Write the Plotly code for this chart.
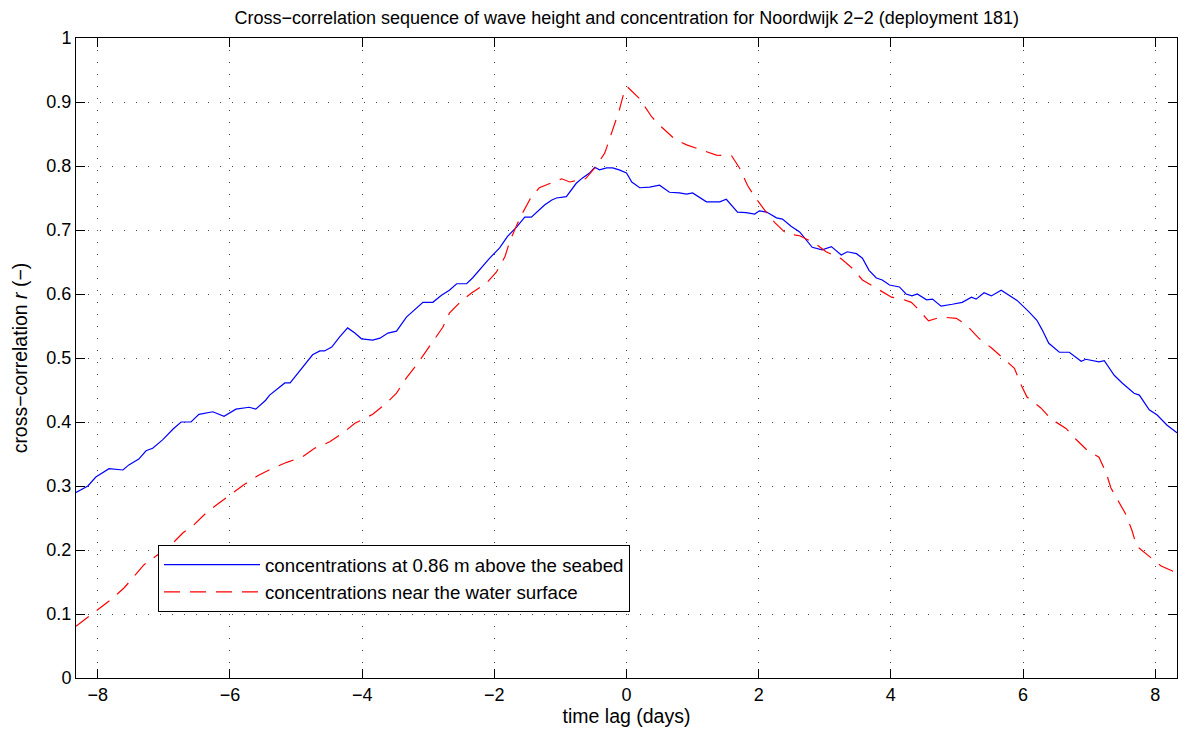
import plotly.graph_objects as go

# Blue: concentrations at 0.86 m above the seabed
blue_lag = [-8.33, -8.15, -8.03, -7.83, -7.62, -7.53, -7.38, -7.27, -7.17, -7.02, -6.86, -6.74, -6.59, -6.47,
            -6.26, -6.09, -5.91, -5.71, -5.61, -5.46, -5.40, -5.17, -5.09, -4.90, -4.75, -4.64, -4.57, -4.46,
            -4.34, -4.22, -4.11, -4.01, -3.84, -3.73, -3.61, -3.48, -3.33, -3.08, -2.93, -2.80, -2.68, -2.57,
            -2.42, -2.33, -2.19, -2.07, -1.92, -1.80, -1.66, -1.54, -1.44, -1.36, -1.24, -1.13, -1.06, -0.91,
            -0.76, -0.67, -0.56, -0.48, -0.41, -0.30, -0.21, -0.11, 0.00, 0.08, 0.20, 0.35, 0.50, 0.65, 0.80,
            0.91, 1.00, 1.21, 1.41, 1.51, 1.68, 1.81, 1.94, 2.01, 2.12, 2.27, 2.36, 2.49, 2.62, 2.81, 2.96,
            3.10, 3.25, 3.34, 3.48, 3.57, 3.67, 3.78, 3.87, 3.98, 4.13, 4.23, 4.32, 4.40, 4.54, 4.63, 4.76,
            4.93, 5.08, 5.22, 5.29, 5.41, 5.52, 5.67, 5.79, 5.91, 6.09, 6.21, 6.29, 6.39, 6.55, 6.70, 6.88,
            6.95, 7.15, 7.23, 7.38, 7.50, 7.68, 7.76, 7.91, 8.03, 8.18, 8.33]
blue_r = [0.290, 0.300, 0.314, 0.327, 0.325, 0.333, 0.342, 0.355, 0.359, 0.372, 0.389, 0.400, 0.400, 0.412,
          0.416, 0.409, 0.420, 0.423, 0.420, 0.434, 0.442, 0.461, 0.461, 0.486, 0.505, 0.511, 0.511, 0.517,
          0.533, 0.547, 0.539, 0.530, 0.528, 0.531, 0.539, 0.542, 0.564, 0.587, 0.587, 0.598, 0.606, 0.616,
          0.616, 0.625, 0.642, 0.656, 0.672, 0.690, 0.705, 0.720, 0.720, 0.727, 0.739, 0.747, 0.750, 0.752,
          0.773, 0.781, 0.789, 0.798, 0.794, 0.797, 0.797, 0.794, 0.789, 0.775, 0.766, 0.767, 0.770, 0.759,
          0.758, 0.756, 0.758, 0.744, 0.744, 0.748, 0.728, 0.727, 0.725, 0.730, 0.728, 0.719, 0.717, 0.706,
          0.697, 0.673, 0.669, 0.674, 0.661, 0.666, 0.663, 0.656, 0.637, 0.625, 0.622, 0.614, 0.611, 0.600,
          0.597, 0.600, 0.591, 0.592, 0.581, 0.584, 0.587, 0.595, 0.592, 0.602, 0.597, 0.606, 0.598, 0.590,
          0.572, 0.559, 0.544, 0.523, 0.509, 0.509, 0.495, 0.498, 0.494, 0.496, 0.473, 0.461, 0.445, 0.442,
          0.419, 0.411, 0.395, 0.383]

# Red: concentrations near the water surface
red_lag = [-8.33, -7.98, -7.77, -7.60, -7.44, -7.30, -6.89, -6.71, -6.55, -6.36, -6.17, -5.96, -5.79, -5.58,
           -5.37, -5.14, -4.91, -4.72, -4.49, -4.29, -4.11, -4.01, -3.84, -3.63, -3.48, -3.33, -3.20, -3.05,
           -2.93, -2.78, -2.68, -2.49, -2.34, -2.12, -1.97, -1.84, -1.77, -1.66, -1.57, -1.45, -1.32, -1.06,
           -0.98, -0.86, -0.62, -0.48, -0.33, -0.26, -0.17, -0.11, -0.02, 0.02, 0.20, 0.38, 0.53, 0.73, 0.91,
           1.15, 1.36, 1.59, 1.71, 1.83, 1.94, 2.09, 2.24, 2.42, 2.62, 2.84, 3.02, 3.25, 3.42, 3.57, 3.78,
           4.01, 4.17, 4.31, 4.38, 4.57, 4.76, 4.99, 5.14, 5.34, 5.52, 5.71, 5.87, 5.97, 6.06, 6.27, 6.42,
           6.65, 6.80, 6.97, 7.15, 7.26, 7.33, 7.45, 7.56, 7.65, 7.72, 7.91, 8.09, 8.33]
red_r = [0.081, 0.108, 0.125, 0.141, 0.161, 0.177, 0.208, 0.227, 0.239, 0.258, 0.273, 0.289, 0.302, 0.316,
         0.327, 0.337, 0.345, 0.359, 0.369, 0.383, 0.398, 0.403, 0.412, 0.430, 0.445, 0.469, 0.486, 0.508,
         0.525, 0.548, 0.570, 0.590, 0.602, 0.617, 0.634, 0.658, 0.681, 0.708, 0.727, 0.750, 0.766, 0.777,
         0.780, 0.775, 0.780, 0.797, 0.820, 0.841, 0.867, 0.887, 0.922, 0.923, 0.905, 0.877, 0.861, 0.842,
         0.833, 0.825, 0.817, 0.816, 0.797, 0.770, 0.752, 0.731, 0.712, 0.694, 0.691, 0.680, 0.666, 0.655,
         0.640, 0.622, 0.609, 0.595, 0.592, 0.587, 0.580, 0.558, 0.564, 0.562, 0.552, 0.530, 0.516, 0.498,
         0.484, 0.458, 0.439, 0.422, 0.405, 0.390, 0.373, 0.356, 0.345, 0.320, 0.297, 0.275, 0.255, 0.230,
         0.206, 0.190, 0.175, 0.164]

x_ticks = [-8, -6, -4, -2, 0, 2, 4, 6, 8]
y_ticks = [0, 0.1, 0.2, 0.3, 0.4, 0.5, 0.6, 0.7, 0.8, 0.9, 1]

title = "Cross\u2212correlation sequence of wave height and concentration for Noordwijk 2\u22122 (deployment 181)"
xlabel = "time lag (days)"
ylabel = "cross\u2212correlation <i>r</i> (\u2212)"
names = ["concentrations at 0.86 m above the seabed", "concentrations near the water surface"]

FONT = "Liberation Sans, Arial, Helvetica, sans-serif"
FS = 18
FS_LABEL = 19.5
FS_LEGEND = 18.7

fig = go.Figure()
fig.add_trace(go.Scatter(x=blue_lag, y=blue_r, mode="lines", name=names[0],
                         line=dict(color="#0000ff", width=1.2)))
fig.add_trace(go.Scatter(x=red_lag, y=red_r, mode="lines", name=names[1],
                         line=dict(color="#ff0000", width=1.2, dash="16px,10px")))

axis_common = dict(
    showline=True, linecolor="black", linewidth=1, mirror="ticks",
    ticks="inside", ticklen=9, tickcolor="black", tickwidth=1,
    showgrid=True, gridcolor="#444444", gridwidth=1, griddash="1px,11px",
    zeroline=False, tickfont=dict(family=FONT, size=FS, color="black"),
)

fig.update_xaxes(range=[-8.33, 8.33], tickvals=x_ticks,
                 title=dict(text=xlabel, font=dict(family=FONT, size=FS_LABEL, color="black"), standoff=5),
                 **axis_common)
fig.update_yaxes(range=[0, 1], tickvals=y_ticks,
                 title=dict(text=ylabel, font=dict(family=FONT, size=FS_LABEL, color="black"), standoff=13),
                 **axis_common)

fig.update_layout(
    width=1178, height=736,
    margin=dict(l=76, r=1, t=38, b=58, autoexpand=False),
    paper_bgcolor="white", plot_bgcolor="white",
    title=dict(text=title, x=0.532, xanchor="center", y=0.9755, yanchor="middle",
               font=dict(family=FONT, size=FS, color="black")),
    font=dict(family=FONT, size=FS, color="black"),
    legend=dict(x=0.0745, y=0.208, xanchor="left", yanchor="top",
                bordercolor="black", borderwidth=1, bgcolor="white",
                font=dict(family=FONT, size=FS_LEGEND, color="black"),
                itemwidth=96, tracegroupgap=0),
    showlegend=True,
)

fig.write_html("out.html",
               config={"displayModeBar": False},
               post_script="document.body.style.margin='0px';document.body.style.overflow='hidden';")
